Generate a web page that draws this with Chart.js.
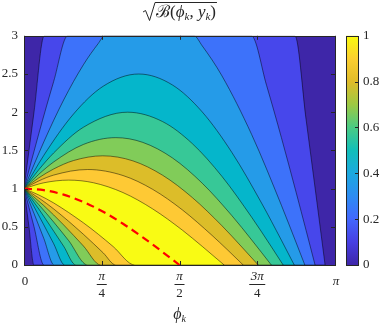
<!DOCTYPE html>
<html>
<head>
<meta charset="utf-8">
<script src="https://cdn.jsdelivr.net/npm/chart.js@4.4.0/dist/chart.umd.min.js"></script>
<style>
  html, body { margin: 0; padding: 0; background: #fff; }
  canvas { display: block; }
</style>
</head>
<body>
<canvas id="contour" width="382" height="327"></canvas>
<script>
// contour levels of sqrt(B) and the fill colour of each band (band 0 = below first level)
const levels = [0.1, 0.2, 0.3, 0.4, 0.5, 0.6, 0.7, 0.8, 0.9];
const bandColors = ["#3E26A8", "#4747EB", "#3D72FA", "#259BE8", "#05B6CB",
                    "#37C897", "#81CC59", "#DCBD29", "#FEC934", "#F9FB14"];

// upper / lower edge of each region {sqrt(B) >= level}, as [phi, y]
const upperCurves = [
  [[0,1],[0.1,1.99],[0.2045,3],[2.7367,3],[2.85,1.90],[2.95,0.913],[3.0414,0]],
  [[0,1],[0.15,1.721],[0.3,2.403],[0.4421,3],[2.2967,3],[2.45,2.353],[2.6,1.668],[2.75,0.945],[2.85,0.451],[2.9402,0]],
  [[0,1],[0.2,1.611],[0.4,2.159],[0.6,2.621],[0.75,2.899],[0.8151,3],[1.7171,3],[1.8,2.869],[2.0,2.475],[2.3,1.707],[2.6,0.782],[2.75,0.289],[2.8369,0]],
  [[0,1],[0.2,1.435],[0.5,1.976],[0.8,2.340],[1.1593,2.5],[1.5,2.356],[1.8,2.004],[2.1,1.473],[2.4,0.810],[2.6,0.325],[2.7301,0]],
  [[0,1],[0.15,1.248],[0.3,1.467],[0.6,1.803],[1.0472,2],[1.4,1.877],[1.7,1.589],[2.0,1.159],[2.3,0.625],[2.5,0.236],[2.618,0]],
  [[0,1],[0.15,1.188],[0.3,1.349],[0.6,1.578],[0.9273,1.667],[1.2,1.605],[1.5,1.401],[1.8,1.071],[2.1,0.646],[2.3,0.328],[2.4981,0]],
  [[0,1],[0.15,1.141],[0.3,1.257],[0.5,1.367],[0.7954,1.429],[1.1,1.363],[1.4,1.175],[1.7,0.883],[2.0,0.513],[2.2,0.236],[2.3662,0]],
  [[0,1],[0.15,1.101],[0.3,1.177],[0.6435,1.25],[1.0,1.171],[1.3,0.990],[1.6,0.721],[1.9,0.387],[2.05,0.205],[2.2143,0]],
  [[0,1],[0.2,1.076],[0.451,1.111],[0.7,1.077],[1.0,0.948],[1.3,0.734],[1.6,0.456],[1.8,0.244],[2.0218,0]]
];
const lowerCurves = [
  [[0,1],[0.05,0.502],[0.1002,0],[3.0414,0]],
  [[0,1],[0.05,0.755],[0.1,0.506],[0.2014,0],[2.9402,0]],
  [[0,1],[0.1,0.678],[0.2,0.348],[0.3047,0],[2.8369,0]],
  [[0,1],[0.1,0.766],[0.2,0.525],[0.3,0.278],[0.4115,0],[2.7301,0]],
  [[0,1],[0.15,0.732],[0.3,0.443],[0.4,0.247],[0.5236,0],[2.618,0]],
  [[0,1],[0.15,0.789],[0.3,0.562],[0.45,0.321],[0.6435,0],[2.4981,0]],
  [[0,1],[0.2,0.778],[0.4,0.525],[0.6,0.249],[0.7754,0],[2.3662,0]],
  [[0,1],[0.15,0.877],[0.3,0.734],[0.6,0.402],[0.8,0.159],[0.9273,0],[2.2143,0]],
  [[0,1],[0.15,0.916],[0.3,0.812],[0.6,0.552],[0.75,0.403],[0.9,0.242],[1.1198,0],[2.0218,0]]
];

// red dashed ridge where sqrt(B) = 1
const ridgePhi = [0, 0.2, 0.4, 0.6, 0.8, 1.0, 1.2, 1.4, 1.5708];
const ridgeY   = [1, 0.980, 0.921, 0.825, 0.697, 0.540, 0.362, 0.170, 0];

// axis ticks
const xTickValues = [0, Math.PI / 4, Math.PI / 2, 3 * Math.PI / 4, Math.PI];
const xTickNum = ["0", "π", "π", "3π", "π"];
const xTickDen = ["", "4", "2", "4", ""];
const yTickValues = [0, 0.5, 1, 1.5, 2, 2.5, 3];
const cbTickValues = [0, 0.2, 0.4, 0.6, 0.8, 1];
const cbTickLabels = ["0", "0.2", "0.4", "0.6", "0.8", "1"];

// parula colormap for the colorbar (0 -> 1)
const cbStops = ["#3E26A8", "#473FE3", "#4367FD", "#2D8CF3", "#1CA9DF", "#12BEB9",
                 "#4ACB84", "#9DC943", "#E0BC2A", "#FCCF30", "#F9FB0E"];

const SERIF = "'Liberation Serif', 'DejaVu Serif', serif";
const INK = "#262626";

function toPts(pairs) {
  return pairs.map((p) => ({ x: p[0], y: p[1] }));
}

function buildDatasets() {
  const ds = [];
  // whole area sits above level 0
  ds.push({
    data: [{ x: 0, y: 3 }, { x: Math.PI, y: 3 }],
    showLine: true, pointRadius: 0, borderWidth: 0,
    fill: "start", backgroundColor: bandColors[0], order: 200
  });
  levels.forEach((lv, i) => {
    ds.push({
      label: "level " + lv,
      data: toPts(upperCurves[i]),
      showLine: true, pointRadius: 0,
      cubicInterpolationMode: "monotone",
      borderColor: "rgba(0,0,0,0.8)", borderWidth: 0.6,
      fill: "+1", backgroundColor: bandColors[i + 1],
      order: 190 - i * 10
    });
    ds.push({
      data: toPts(lowerCurves[i]),
      showLine: true, pointRadius: 0,
      cubicInterpolationMode: "monotone",
      borderColor: "rgba(0,0,0,0.8)", borderWidth: 0.6,
      fill: false,
      order: 189 - i * 10
    });
  });
  ds.push({
    data: ridgePhi.map((p, i) => ({ x: p, y: ridgeY[i] })),
    showLine: true, pointRadius: 0,
    cubicInterpolationMode: "monotone",
    borderColor: "#FF0000", borderWidth: 2.2, borderDash: [8, 5],
    fill: false, order: 0
  });
  return ds;
}

function line(ctx, x1, y1, x2, y2) {
  ctx.beginPath();
  ctx.moveTo(x1, y1);
  ctx.lineTo(x2, y2);
  ctx.stroke();
}

function drawTitle(ctx, cx) {
  const parts = [
    { t: "ℬ", f: "17px " + SERIF },
    { t: "(", f: "17px " + SERIF },
    { t: "ϕ", f: "italic 17px " + SERIF },
    { t: "k", f: "italic 11px " + SERIF, sub: true },
    { t: ", ", f: "17px " + SERIF },
    { t: "y", f: "italic 17px " + SERIF },
    { t: "k", f: "italic 11px " + SERIF, sub: true },
    { t: ")", f: "17px " + SERIF }
  ];
  let w = 0;
  parts.forEach((p) => { ctx.font = p.f; p.w = ctx.measureText(p.t).width; w += p.w; });
  const radW = 13;
  const total = radW + w;
  let x = cx - total / 2;
  const base = 17;
  // radical sign with overbar
  ctx.strokeStyle = INK;
  ctx.lineWidth = 1;
  ctx.beginPath();
  ctx.moveTo(x, base - 5);
  ctx.lineTo(x + 2.5, base - 6.5);
  ctx.lineTo(x + 6.5, base + 3.5);
  ctx.lineTo(x + radW - 1, 2.5);
  ctx.lineTo(x + total + 1, 2.5);
  ctx.stroke();
  x += radW;
  ctx.fillStyle = INK;
  ctx.textAlign = "left";
  ctx.textBaseline = "alphabetic";
  parts.forEach((p) => {
    ctx.font = p.f;
    ctx.fillText(p.t, x, p.sub ? base + 3 : base);
    x += p.w;
  });
}

const decorPlugin = {
  id: "decor",
  afterDatasetsDraw(chart) {
    const { ctx, chartArea: a, scales } = chart;
    ctx.save();
    ctx.strokeStyle = INK;
    ctx.lineWidth = 1;
    // inward ticks on all four sides
    xTickValues.forEach((v) => {
      const px = Math.round(scales.x.getPixelForValue(v)) + 0.5;
      line(ctx, px, a.bottom, px, a.bottom - 4);
      line(ctx, px, a.top, px, a.top + 4);
    });
    yTickValues.forEach((v) => {
      const py = Math.round(scales.y.getPixelForValue(v)) + 0.5;
      line(ctx, a.left, py, a.left + 4, py);
      line(ctx, a.right, py, a.right - 4, py);
    });
    ctx.strokeRect(Math.round(a.left) + 0.5, Math.round(a.top) + 0.5,
      Math.round(a.right - a.left), Math.round(a.bottom - a.top));
    ctx.restore();
  },
  afterDraw(chart) {
    const { ctx, chartArea: a, scales } = chart;
    ctx.save();
    // colorbar
    const yc = scales.yc;
    const cbTop = yc.getPixelForValue(1);
    const cbBot = yc.getPixelForValue(0);
    const cbL = 346, cbW = 12;
    const grad = ctx.createLinearGradient(0, cbBot, 0, cbTop);
    cbStops.forEach((c, i) => grad.addColorStop(i / (cbStops.length - 1), c));
    ctx.fillStyle = grad;
    ctx.fillRect(cbL, cbTop, cbW, cbBot - cbTop);
    ctx.strokeStyle = INK;
    ctx.lineWidth = 1;
    ctx.strokeRect(cbL + 0.5, Math.round(cbTop) + 0.5, cbW, Math.round(cbBot - cbTop));
    cbTickValues.forEach((v) => {
      const py = Math.round(yc.getPixelForValue(v)) + 0.5;
      line(ctx, cbL + cbW, py, cbL + cbW - 3, py);
    });

    // x tick labels as stacked fractions
    ctx.fillStyle = INK;
    ctx.textAlign = "center";
    ctx.textBaseline = "alphabetic";
    xTickValues.forEach((v, i) => {
      const px = scales.x.getPixelForValue(v);
      if (!xTickDen[i]) {
        ctx.font = (xTickNum[i] === "π" ? "italic " : "") + "13px " + SERIF;
        ctx.fillText(xTickNum[i], px + 1, a.bottom + 19.5);
        return;
      }
      ctx.font = "italic 13px " + SERIF;
      const nw = ctx.measureText(xTickNum[i]).width;
      ctx.fillText(xTickNum[i], px, a.bottom + 14.5);
      ctx.font = "13px " + SERIF;
      ctx.fillText(xTickDen[i], px, a.bottom + 32);
      const bw = Math.max(nw, 7) + 3;
      ctx.lineWidth = 1;
      ctx.strokeStyle = INK;
      line(ctx, px - bw / 2, a.bottom + 19.5, px + bw / 2, a.bottom + 19.5);
    });

    // x axis label phi_k
    const cx = (a.left + a.right) / 2;
    ctx.font = "italic 16px " + SERIF;
    const pw = ctx.measureText("ϕ").width;
    ctx.font = "italic 10px " + SERIF;
    const kw = ctx.measureText("k").width;
    let x0 = cx - (pw + kw) / 2;
    ctx.textAlign = "left";
    ctx.font = "italic 16px " + SERIF;
    ctx.fillText("ϕ", x0, 319);
    ctx.font = "italic 10px " + SERIF;
    ctx.fillText("k", x0 + pw, 322);

    drawTitle(ctx, cx);
    ctx.restore();
  }
};

document.addEventListener("DOMContentLoaded", () => {
  const tickFont = { family: SERIF, size: 13 };
  new Chart(document.getElementById("contour"), {
    type: "scatter",
    data: { datasets: buildDatasets() },
    options: {
      responsive: false,
      animation: false,
      devicePixelRatio: 1,
      layout: { padding: { top: 26, bottom: 62, left: 0, right: 0 } },
      plugins: {
        legend: { display: false },
        tooltip: { enabled: false },
        title: { display: false }
      },
      scales: {
        x: { type: "linear", display: false, min: 0, max: Math.PI },
        y: {
          type: "linear", position: "left", min: 0, max: 3,
          grid: { display: false, drawTicks: false },
          border: { display: false },
          afterBuildTicks: (s) => { s.ticks = yTickValues.map((v) => ({ value: v })); },
          afterFit: (s) => { s.width = 24; },
          ticks: { font: tickFont, color: INK, padding: 6, autoSkip: false,
                   callback: (v) => String(v) }
        },
        yc: {
          type: "linear", position: "right", min: 0, max: 1,
          grid: { display: false, drawTicks: false },
          border: { display: false },
          afterBuildTicks: (s) => { s.ticks = cbTickValues.map((v) => ({ value: v })); },
          afterFit: (s) => { s.width = 47; },
          ticks: { font: tickFont, color: INK, padding: 28, autoSkip: false,
                   callback: (v) => cbTickLabels[cbTickValues.indexOf(v)] }
        }
      }
    },
    plugins: [decorPlugin]
  });
});
</script>
</body>
</html>
